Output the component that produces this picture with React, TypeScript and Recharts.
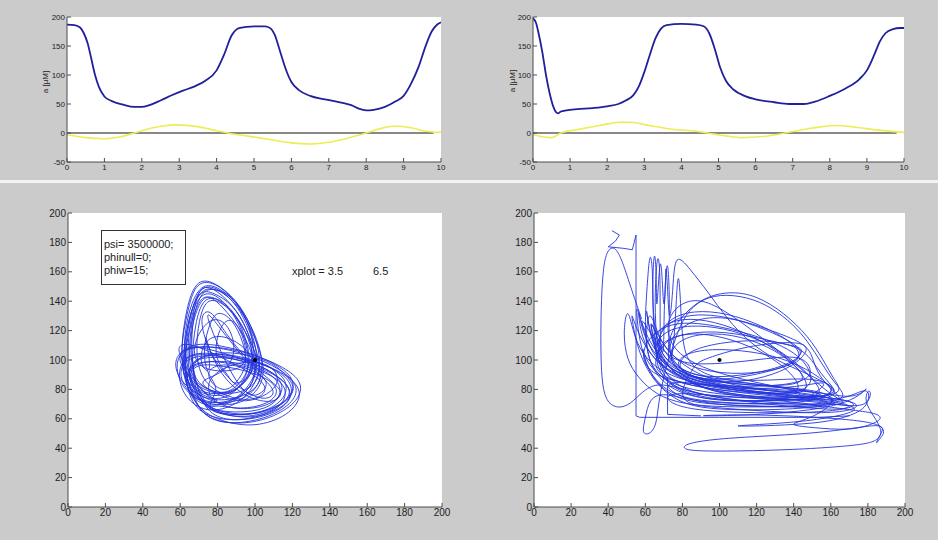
import React from "react";
import { LineChart, Line, XAxis, YAxis, CartesianGrid, ReferenceDot } from "recharts";

type Pt = [number, number];

// time axes of the two upper panels
const timeTicks = [0, 1, 2, 3, 4, 5, 6, 7, 8, 9, 10];
const concTicks = [-50, 0, 50, 100, 150, 200];
// phase plane axes of the two lower panels
const phaseTicks = [0, 20, 40, 60, 80, 100, 120, 140, 160, 180, 200];

const blueLeft: Pt[] = [
  [0, 187], [0.2, 186], [0.35, 182], [0.45, 172], [0.55, 155], [0.65, 128], [0.75, 100], [0.85, 80],
  [1.0, 63], [1.2, 55], [1.5, 49], [1.8, 45], [2.0, 45], [2.2, 48], [2.5, 56], [2.8, 65], [3.1, 73],
  [3.4, 80], [3.7, 90], [4.0, 108], [4.2, 135], [4.4, 168], [4.6, 181], [4.8, 183], [5.0, 184],
  [5.3, 184], [5.45, 180], [5.55, 170], [5.7, 140], [5.85, 110], [6.0, 88], [6.2, 74], [6.5, 64],
  [6.9, 58], [7.3, 53], [7.6, 48], [7.8, 42], [8.0, 39], [8.2, 40], [8.5, 45], [8.8, 55], [9.0, 64],
  [9.2, 85], [9.4, 114], [9.6, 152], [9.75, 175], [9.9, 187], [10, 191],
];
const yellowLeft: Pt[] = [
  [0, -3], [0.5, -8], [1.0, -10], [1.4, -7], [1.8, 0], [2.3, 9], [2.9, 14], [3.5, 11], [4.0, 4],
  [4.3, 0], [4.8, -5], [5.5, -12], [6.0, -17], [6.5, -19], [7.0, -16], [7.5, -9], [8.0, 0], [8.4, 8],
  [8.8, 12], [9.2, 9], [9.6, 3], [10, 1],
];
const blueRight: Pt[] = [
  [0, 198], [0.08, 190], [0.15, 172], [0.25, 140], [0.35, 100], [0.45, 68], [0.55, 45], [0.62, 36],
  [0.68, 34], [0.75, 37], [0.9, 39], [1.2, 41], [1.6, 43], [2.0, 46], [2.3, 50], [2.5, 56], [2.7, 65],
  [2.85, 80], [3.0, 105], [3.15, 135], [3.3, 163], [3.45, 180], [3.6, 186], [4.0, 188], [4.4, 187],
  [4.6, 184], [4.75, 172], [4.9, 145], [5.05, 112], [5.2, 90], [5.4, 75], [5.7, 64], [6.0, 58],
  [6.5, 53], [6.9, 50], [7.3, 50], [7.6, 54], [8.0, 64], [8.4, 76], [8.8, 93], [9.0, 108], [9.2, 135],
  [9.35, 158], [9.5, 172], [9.7, 179], [9.9, 181], [10, 181],
];
const yellowRight: Pt[] = [
  [0, -3], [0.3, -7], [0.5, -8], [0.75, 0], [1.2, 6], [1.8, 13], [2.4, 19], [2.7, 18], [3.2, 12],
  [3.8, 6], [4.4, 3], [4.7, 0], [5.2, -5], [5.6, -8], [6.2, -6], [6.8, 0], [7.3, 6], [7.8, 11],
  [8.2, 13], [8.7, 10], [9.3, 5], [9.8, 2], [10, 1],
];
const zeroLine: Pt[] = [[0, 0], [9.8, 0]];

// trajectory in the lower left phase plane
const orbitLeft: Pt[] = [
  [80, 72], [68, 82], [64, 100], [66, 125], [69, 145], [73, 151], [80, 147], [90, 135], [98, 115], [102, 95], [96, 80],
  [86, 70], [72, 68], [64, 78], [62, 92], [70, 100], [88, 98], [106, 92], [118, 82], [115, 68], [100, 60], [84, 62],
  [72, 70], [63, 85], [61, 105], [65, 130], [70, 148], [78, 146], [88, 138], [96, 122], [100, 100], [94, 82],
  [82, 74], [68, 78], [60, 92], [63, 104], [78, 104], [98, 98], [114, 88], [121, 78], [112, 66], [94, 60], [78, 64],
  [70, 72], [64, 90], [64, 115], [67, 138], [74, 148], [84, 140], [92, 124], [97, 105], [96, 88], [88, 76],
  [78, 72], [66, 80], [63, 95], [72, 104], [90, 104], [108, 96], [118, 86], [116, 72], [102, 63], [86, 62], [72, 68],
  [68, 80], [66, 100], [68, 125], [72, 142], [80, 143], [90, 132], [96, 112], [98, 95], [90, 80],
  [80, 76], [66, 86], [58, 100], [62, 110], [75, 108], [95, 100], [110, 92], [120, 80], [118, 70], [105, 62], [88, 58], [74, 62],
  [66, 70], [62, 90], [63, 112], [68, 135], [73, 146], [82, 138], [94, 118], [100, 100], [100, 85], [92, 74],
  [80, 70], [68, 72], [62, 84], [66, 98], [82, 100], [100, 96], [112, 88], [115, 76], [106, 66], [90, 64], [76, 66],
  [72, 74], [66, 92], [65, 118], [70, 140], [76, 145], [86, 136], [95, 120], [102, 100], [104, 85], [96, 76],
  [84, 72], [70, 74], [64, 86], [66, 100], [80, 106], [96, 104], [110, 98], [118, 88], [122, 80], [116, 70], [100, 62], [84, 64],
  [74, 68], [66, 84], [62, 104], [64, 128], [70, 146], [76, 150], [86, 144], [94, 130], [100, 110], [104, 92], [98, 80],
  [86, 76], [72, 80], [66, 92], [68, 102], [84, 102], [100, 98], [112, 90], [116, 80], [110, 70], [96, 66], [82, 68],
  [70, 80], [62, 98], [58, 108], [62, 112], [72, 108], [85, 100], [100, 90], [108, 80], [100, 72],
  [86, 74], [72, 84], [68, 104], [70, 128], [74, 142], [82, 140], [92, 128], [98, 110], [100, 95], [94, 82],
  [82, 76], [70, 78], [64, 88], [68, 98], [84, 96], [104, 90], [114, 80], [108, 70], [92, 66], [78, 70],
  [76, 66], [64, 80], [60, 100], [62, 126], [66, 148], [72, 156], [82, 150], [92, 138], [100, 118], [104, 96], [98, 78],
  [88, 68], [74, 64], [62, 74], [58, 92], [64, 106], [84, 104], [104, 98], [120, 88], [126, 76], [118, 62], [100, 54], [82, 58],
  [70, 66], [62, 84], [60, 108], [64, 134], [68, 152], [76, 154], [86, 146], [96, 128], [102, 104], [100, 84], [90, 72],
  [80, 68], [66, 74], [58, 88], [58, 104], [68, 110], [88, 108], [108, 100], [122, 90], [126, 80], [120, 68], [104, 58], [86, 56], [72, 62],
  [66, 76], [62, 96], [64, 122], [68, 144], [74, 152], [84, 146], [94, 132], [102, 110], [106, 90], [100, 76], [88, 68],
  [76, 72], [62, 82], [56, 96], [60, 108], [76, 110], [96, 104], [114, 94], [124, 82], [120, 70], [106, 60], [88, 56], [74, 60],
  [68, 72], [62, 92], [62, 118], [66, 140], [72, 152], [80, 150], [90, 140], [98, 124], [104, 104], [104, 86], [96, 74],
  [84, 70], [70, 72], [60, 84], [60, 98], [70, 104], [90, 102], [108, 96], [120, 86], [120, 72], [108, 62], [90, 58], [76, 62],
  [70, 76], [66, 98], [66, 124], [70, 144], [76, 150], [88, 144], [96, 128], [100, 108], [98, 90], [90, 78],
  [78, 76], [64, 86], [60, 102], [66, 112], [82, 110], [100, 104], [116, 94], [122, 84], [118, 72], [104, 64], [86, 62], [72, 66],
  [82, 80], [74, 90], [72, 108], [76, 126], [80, 134], [88, 128], [94, 112], [96, 96], [90, 84],
  [84, 78], [76, 84], [74, 94], [84, 98], [98, 94], [108, 86], [104, 76], [92, 74],
  [70, 140], [80, 124], [92, 104], [104, 88], [112, 78], [106, 72], [94, 78], [82, 92], [74, 110], [70, 130],
  [76, 136], [84, 118], [96, 100], [108, 86], [116, 78], [110, 70], [96, 74], [84, 86], [76, 104], [72, 124],
  [78, 88], [70, 96], [72, 112], [80, 118], [92, 112], [100, 100], [98, 88], [88, 82],
  [86, 90], [78, 100], [80, 120], [86, 130], [92, 122], [96, 106], [94, 92],
  [72, 92], [66, 104], [70, 120], [78, 130], [86, 124], [90, 108], [86, 94], [76, 88], [68, 84],
  [90, 70], [104, 74], [114, 84], [110, 96], [98, 100], [84, 96], [74, 86], [76, 76],
];

// trajectory in the lower right phase plane
const orbitRight: Pt[] = [
  [58, 128], [52, 150], [47, 170], [43, 178], [39, 174], [37, 160], [36, 130], [36, 100], [37, 80], [40, 70], [46, 67], [52, 70], [58, 78], [66, 85],
  [80, 80], [100, 74], [125, 70], [150, 67], [168, 66], [175, 70], [165, 74], [140, 76], [115, 79], [92, 84], [75, 92], [64, 105], [58, 120], [56, 138],
  [57, 120], [62, 104], [72, 92], [88, 84], [110, 79], [135, 76], [160, 73], [170, 70],
  [160, 76], [148, 90], [132, 106], [116, 122], [100, 136], [88, 142], [78, 138], [72, 128], [72, 115], [78, 104], [90, 95], [108, 88], [130, 82], [150, 77],
  [130, 72], [105, 72], [85, 76], [72, 84], [66, 100], [64, 130], [64, 160], [65, 176], [66, 160], [66, 130], [67, 150], [68, 170], [69, 160], [70, 130],
  [71, 150], [71, 168], [72, 150], [73, 120], [75, 150], [76, 174], [84, 162], [94, 146], [104, 128], [116, 112], [130, 100], [145, 92], [158, 84], [165, 78],
  [150, 74], [125, 72], [100, 72], [82, 76], [70, 86], [65, 100], [68, 112], [80, 118], [98, 120], [118, 116], [138, 110], [146, 108], [142, 100], [130, 94],
  [115, 90], [98, 88], [84, 90], [75, 98], [72, 110], [78, 122], [92, 130], [110, 128], [128, 120], [145, 112], [150, 104], [152, 92], [160, 80], [168, 72],
  [155, 68], [130, 66], [105, 66], [85, 68], [72, 76], [62, 90], [55, 110], [52, 135], [54, 125], [60, 108], [70, 94], [85, 86], [105, 82], [130, 80],
  [155, 78], [170, 74], [178, 78], [180, 82], [176, 76], [166, 70],
  [150, 66], [125, 63], [100, 62], [85, 62], [110, 63], [140, 62], [165, 60], [180, 58], [188, 55], [189, 50], [186, 46], [184, 42], [186, 48], [189, 54],
  [185, 56], [175, 54], [150, 50], [120, 48], [95, 46], [82, 43], [80, 40], [85, 38], [110, 38], [140, 39], [165, 41], [180, 43], [186, 46], [188, 52],
  [183, 62], [178, 72], [180, 80], [182, 78], [180, 70], [172, 68],
  [150, 72], [125, 74], [100, 78], [80, 86], [68, 100], [66, 116], [74, 128], [90, 132], [110, 128], [130, 118], [142, 110], [145, 104], [138, 96], [120, 90],
  [100, 86], [85, 88], [76, 96], [80, 104], [95, 108], [118, 106], [138, 100], [155, 88], [165, 76],
  [140, 70], [110, 70], [85, 72], [70, 78], [62, 74], [60, 60], [58, 50], [62, 49], [66, 55], [67, 70], [70, 90], [75, 110], [80, 128], [88, 140],
  [100, 145], [115, 143], [128, 136], [140, 124], [148, 112], [155, 98], [162, 84], [170, 74],
  [155, 70], [130, 68], [100, 68], [80, 70], [66, 76], [56, 88], [50, 100], [48, 118], [50, 135], [52, 128], [55, 112], [62, 98], [75, 88], [95, 82],
  [120, 80], [145, 82], [158, 86], [155, 80], [145, 74],
  [160, 72], [172, 76], [178, 80], [181, 78], [180, 70], [175, 64], [160, 58], [140, 56], [120, 55], [105, 55], [120, 56], [145, 58], [165, 62], [175, 66],
  [170, 70], [150, 70], [125, 70], [100, 71], [80, 74], [68, 82], [60, 96], [58, 112], [60, 100], [68, 88], [82, 80], [105, 76], [130, 74], [155, 72],
  [172, 70], [168, 66], [145, 64], [120, 64], [95, 65], [78, 68], [70, 74], [75, 78], [95, 76], [120, 74], [150, 70],
  [160, 68], [140, 68], [115, 69], [92, 70], [76, 74], [66, 84], [60, 98], [56, 118], [55, 140], [57, 128], [63, 110], [72, 96], [86, 88], [106, 84],
  [128, 82], [150, 80], [166, 74], [150, 60], [135, 56], [150, 54], [170, 52], [182, 56], [188, 60], [185, 64], [170, 66],
  [150, 70], [110, 72], [80, 78], [66, 96], [62, 132], [66, 115], [74, 98], [88, 86], [110, 80], [135, 76], [158, 74], [150, 88], [138, 102], [122, 114],
  [102, 122], [84, 124], [70, 120], [64, 108], [68, 96], [80, 86], [100, 80], [125, 78], [150, 76], [145, 92], [130, 108], [112, 120], [92, 128],
  [76, 128], [66, 120], [64, 108], [70, 96], [84, 88], [104, 84], [128, 82], [148, 84], [142, 96], [126, 110], [106, 118], [88, 118], [76, 112],
  [72, 100], [80, 90], [96, 86], [120, 84], [144, 80], [160, 76], [140, 74], [112, 74], [90, 76], [74, 82], [62, 96], [60, 116], [62, 136],
  [66, 120], [72, 104], [86, 94], [106, 90], [128, 92], [146, 100], [140, 112], [122, 124], [104, 132], [86, 134], [72, 128], [66, 114], [70, 100],
  [84, 90], [104, 86], [126, 86], [148, 88], [160, 84], [162, 78], [150, 72],
  [80, 82], [70, 90], [66, 110], [65, 140], [66, 165], [67, 172], [68, 160], [68, 130], [68, 110], [70, 100], [70, 130], [71, 160], [72, 168],
  [73, 150], [73, 120], [72, 100], [74, 96], [76, 120], [77, 150], [78, 160], [79, 140], [80, 110], [84, 96], [96, 88], [116, 84], [140, 80], [162, 76],
  [140, 72], [110, 72], [88, 74], [74, 80], [64, 92], [60, 110], [60, 132], [61, 150], [62, 168], [63, 172], [64, 160], [64, 140], [65, 120],
  [68, 104], [78, 92], [96, 84], [120, 80], [146, 78], [168, 72],
  [150, 68], [120, 68], [96, 70], [80, 74], [70, 82], [76, 86], [96, 82], [122, 80], [150, 76], [172, 72], [176, 68], [165, 64], [140, 64], [115, 66],
  [92, 68], [76, 72], [86, 96], [90, 100], [110, 108], [130, 112], [146, 112], [148, 106], [140, 96], [125, 88], [105, 84], [88, 86],
  [76, 94], [82, 106], [100, 112], [122, 114], [142, 110], [150, 100], [156, 88], [166, 76],
  [150, 72], [110, 74], [80, 84], [70, 110], [78, 128], [90, 142], [105, 147], [120, 144], [135, 132], [148, 116], [156, 100], [162, 86], [168, 76],
  [140, 74], [100, 76], [70, 90], [60, 135], [68, 112], [80, 96], [96, 86], [120, 80], [146, 76], [140, 90], [128, 102], [112, 112], [94, 118],
  [78, 118], [68, 110], [64, 96], [70, 88], [86, 82], [110, 78], [140, 76], [152, 84], [146, 100], [134, 110], [116, 118], [96, 124], [80, 126],
  [68, 122], [60, 112], [58, 100], [64, 90], [80, 84], [104, 82], [130, 82], [148, 86], [150, 94], [144, 104],
  [120, 100], [90, 96], [70, 100], [56, 135], [60, 115], [66, 100], [74, 92], [66, 104], [62, 120], [60, 140], [62, 120], [68, 100], [80, 88],
  [104, 80], [130, 76], [158, 72],
];
// straight stretches of the right trajectory
const rightSpike: Pt[] = [[42, 188], [46, 185], [44, 181], [40, 177], [48, 176], [53, 175], [55, 185], [55, 62], [57, 61], [100, 61], [153, 61], [170, 62]];
const rightStep: Pt[] = [[72, 88], [72, 63], [90, 62]];
const centre: Pt[] = [[100, 100]];

const FONT = "'Liberation Sans', Arial, Helvetica, sans-serif";
const AXIS = "#4d4d4d";
const BLUE_TIME = "#20209a";
const BLUE_PHASE = "#2233dd";

const rows = (pts: Pt[]) => pts.map(([x, y]) => ({ x, y }));
const blank = () => "";

function boxAxes(xTicks: number[], yTicks: number[], xDom: [number, number], yDom: [number, number], fontSize: number, yWidth: number) {
  const tick = { fill: "#222", fontSize, fontFamily: FONT };
  return [
    <XAxis key="xb" dataKey="x" type="number" domain={xDom} ticks={xTicks} allowDataOverflow height={18}
      tick={tick} tickSize={-4} tickMargin={6} stroke={AXIS} interval={0} />,
    <XAxis key="xt" xAxisId="top" orientation="top" dataKey="x" type="number" domain={xDom} ticks={xTicks}
      allowDataOverflow height={0} tickFormatter={blank} tickSize={-4} stroke={AXIS} interval={0} />,
    <YAxis key="yl" type="number" domain={yDom} ticks={yTicks} allowDataOverflow width={yWidth}
      tick={tick} tickSize={-4} tickMargin={6} stroke={AXIS} interval={0} />,
    <YAxis key="yr" yAxisId="right" orientation="right" type="number" domain={yDom} ticks={yTicks}
      allowDataOverflow width={0} tickFormatter={blank} tickSize={-4} stroke={AXIS} interval={0} />,
  ];
}

function TimePanel({ left, right, blue, yellow }: { left: number; right: number; blue: Pt[]; yellow: Pt[] }) {
  return (
    <div style={{ position: "absolute", left, top: 0 }}>
      <LineChart width={460} height={180} margin={{ top: 17, right, bottom: 0, left: 0 }}>
        <CartesianGrid horizontal={false} vertical={false} fill="#ffffff" />
        {boxAxes(timeTicks, concTicks, [0, 10], [-50, 200], 8, 67)}
        <Line data={rows(blue)} dataKey="y" type="monotone" stroke={BLUE_TIME} strokeWidth={1.8} dot={false} isAnimationActive={false} />
        <Line data={rows(zeroLine)} dataKey="y" type="linear" stroke="#111" strokeWidth={1} dot={false} isAnimationActive={false} />
        <Line data={rows(yellow)} dataKey="y" type="monotone" stroke="#eded55" strokeWidth={1.6} dot={false} isAnimationActive={false} />
      </LineChart>
    </div>
  );
}

function PhasePanel({ left, right, children }: { left: number; right: number; children: React.ReactNode }) {
  return (
    <div style={{ position: "absolute", left, top: 195 }}>
      <LineChart width={460} height={330} margin={{ top: 18, right, bottom: 0, left: 0 }}>
        <CartesianGrid horizontal={false} vertical={false} fill="#ffffff" />
        {boxAxes(phaseTicks, phaseTicks, [0, 200], [0, 200], 10, 68)}
        {children}
        <ReferenceDot x={centre[0][0]} y={centre[0][1]} r={1.6} fill="#000" stroke="#000" />
      </LineChart>
    </div>
  );
}

const yLabel: React.CSSProperties = {
  position: "absolute", fontFamily: FONT, fontSize: 8, color: "#222", whiteSpace: "nowrap",
  transform: "translate(-50%, -50%) rotate(-90deg)",
};
const note: React.CSSProperties = { position: "absolute", fontFamily: FONT, fontSize: 11, color: "#222", whiteSpace: "nowrap", lineHeight: "13px" };

export default function App() {
  return (
    <div style={{ position: "absolute", left: 0, top: 0, width: 938, height: 540, background: "#cbcbcb", overflow: "hidden" }}>
      <TimePanel left={0} right={19} blue={blueLeft} yellow={yellowLeft} />
      <TimePanel left={466} right={22} blue={blueRight} yellow={yellowRight} />
      <div style={{ ...yLabel, left: 45, top: 82 }}>a [µM]</div>
      <div style={{ ...yLabel, left: 512, top: 81 }}>a [µM]</div>
      <div style={{ position: "absolute", left: 0, top: 180, width: 938, height: 3, background: "#f3f3f3" }} />

      <PhasePanel left={0} right={18}>
        <Line data={rows(orbitLeft)} dataKey="y" type="basis" stroke={BLUE_PHASE} strokeWidth={0.9} dot={false} isAnimationActive={false} />
      </PhasePanel>
      <PhasePanel left={466} right={21}>
        <Line data={rows(orbitRight)} dataKey="y" type="basis" stroke={BLUE_PHASE} strokeWidth={0.9} dot={false} isAnimationActive={false} />
        <Line data={rows(rightSpike)} dataKey="y" type="linear" stroke={BLUE_PHASE} strokeWidth={0.9} dot={false} isAnimationActive={false} />
        <Line data={rows(rightStep)} dataKey="y" type="linear" stroke={BLUE_PHASE} strokeWidth={0.9} dot={false} isAnimationActive={false} />
      </PhasePanel>

      <div style={{ position: "absolute", left: 101, top: 230, width: 83, height: 53, border: "1px solid #333", background: "#fff" }} />
      <div style={{ ...note, left: 104, top: 238 }}>
        psi= 3500000;<br />phinull=0;<br />phiw=15;
      </div>
      <div style={{ ...note, left: 292, top: 265 }}>xplot = 3.5</div>
      <div style={{ ...note, left: 373, top: 265 }}>6.5</div>
    </div>
  );
}
